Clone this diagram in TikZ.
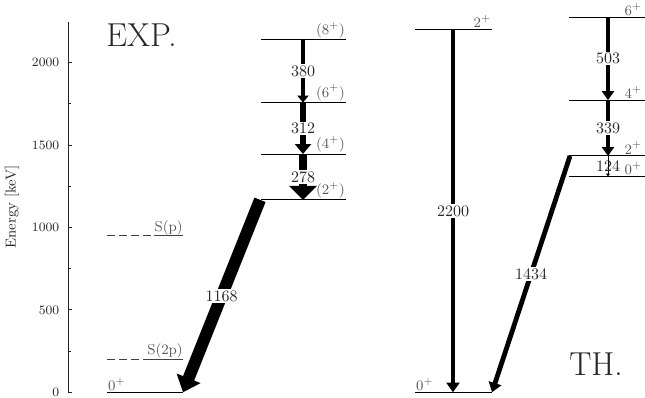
\documentclass[tikz,border=0pt]{standalone}
\usetikzlibrary{arrows.meta}
\begin{document}
\begin{tikzpicture}[
  axis/.style={line width=0.6pt, draw=black!85},
  lvl/.style={line width=0.6pt},
  sepl/.style={line width=0.6pt, draw=black!75},
  lvlfont/.style={font=\fontsize{9}{11}\selectfont},
  lvllab/.style={lvlfont, anchor=south east, inner xsep=0.5pt, inner ysep=1pt, text=black!65},
  lvllabl/.style={lvlfont, anchor=south west, inner xsep=0.5pt, inner ysep=1pt, text=black!65},
  seplab/.style={lvlfont, anchor=south east, inner xsep=0pt, inner ysep=0.3pt, text=black!65},
  trlab/.style={fill=white, inner sep=0.8pt, text=black!85, font=\normalsize},
  ticklab/.style={anchor=east, inner sep=0pt, text=black!85, font=\fontsize{8}{10}\selectfont},
  big/.style={text=black!85, font=\huge},
  gA/.style={line width=2.3pt, -{Triangle[width=6.9pt,length=4.4pt]}},
  gB/.style={line width=3.75pt, -{Triangle[width=10pt,length=6.25pt]}},
  gC/.style={line width=5.5pt, -{Triangle[width=16.9pt,length=8.75pt]}},
  gD/.style={line width=7.5pt, -{Triangle[width=15.5pt,length=9.4pt]}},
  gE/.style={line width=3pt, -{Triangle[width=8pt,length=6pt]}},
  gF/.style={line width=2.8pt, -{Triangle[width=7.5pt,length=5.6pt]}},
  gG/.style={line width=0.6pt, -{Triangle[width=2.5pt,length=1.8pt]}},
]
\useasboundingbox (0,0) rectangle (403.125pt,248.125pt);
\begin{scope}[x=0.625pt, y=0.103pt, yshift=2.94pt]
% axis
\coordinate (axB) at (68,0);
\coordinate (axT) at (68,2250);
\draw[axis] (axB) -- (axT);
\foreach \e in {0,500,1000,1500,2000}{
  \coordinate (mt\e) at (68,\e);
  \coordinate (mtt\e) at (72,\e);
  \draw[axis] (mt\e) -- (mtt\e);
  \node[ticklab] (tl\e) at (59.5,\e) {\e};
}
\foreach \e in {250,750,1250,1750}{
  \coordinate (nt\e) at (68,\e);
  \coordinate (ntt\e) at (70.5,\e);
  \draw[axis] (nt\e) -- (ntt\e);
}
\node[rotate=90, font=\fontsize{9}{11}\selectfont, text=black!85] (ylab) at (12,1125) {Energy [keV]};

% ---------- EXP ----------
\node[big] (exp) at (141.5,2165) {EXP.};
\coordinate (g0L) at (107,0);
\coordinate (g0R) at (183,0);
\draw[lvl] (g0L) -- (g0R);
\node[lvllabl] (g0lab) at (g0L) {$0^+$};

\coordinate (s2L) at (107,200);
\coordinate (s2R) at (183,200);
\node[seplab] (s2lab) at (s2R) {S(2p)};
\draw[sepl, dash pattern=on 5pt off 2.5pt] (s2L) -- (s2lab.south west);
\draw[sepl] (s2lab.south west) -- (s2R);

\coordinate (s1L) at (107,950);
\coordinate (s1R) at (183,950);
\node[seplab] (s1lab) at (s1R) {S(p)};
\draw[sepl, dash pattern=on 5pt off 2.5pt] (s1L) -- (s1lab.south west);
\draw[sepl] (s1lab.south west) -- (s1R);

\foreach \n/\e in {e2/1168, e4/1446, e6/1758, e8/2138}{
  \coordinate (\n L) at (261,\e);
  \coordinate (\n R) at (346,\e);
  \coordinate (\n m) at (303,\e);
  \draw[lvl] (\n L) -- (\n R);
}
\coordinate (e2s) at (260,1168);
\draw[gA] (e8m) -- (e6m);
\draw[gB] (e6m) -- (e4m);
\draw[gC] (e4m) -- (e2m);
\draw[gD] (e2s) -- (g0R);
\node[lvllab] (e2lab) at (e2R) {$(2^+)$};
\node[lvllab] (e4lab) at (e4R) {$(4^+)$};
\node[lvllab] (e6lab) at (e6R) {$(6^+)$};
\node[lvllab] (e8lab) at (e8R) {$(8^+)$};
\path (e8m) -- node[trlab] (l380) {380} (e6m);
\path (e6m) -- node[trlab] (l312) {312} (e4m);
\path (e4m) -- node[trlab] (l278) {278} (e2m);
\path (e2s) -- node[trlab] (l1168) {1168} (g0R);

% ---------- TH ----------
\node[big] (th) at (596,172) {TH.};
\coordinate (t0L) at (415,0);
\coordinate (t0R) at (492,0);
\coordinate (t0m) at (453,0);
\draw[lvl] (t0L) -- (t0R);
\node[lvllabl] (t0lab) at (t0L) {$0^+$};
\coordinate (taL) at (415,2200);
\coordinate (taR) at (492,2200);
\coordinate (tam) at (453,2200);
\draw[lvl] (taL) -- (taR);
\node[lvllab] (talab) at (taR) {$2^+$};

\foreach \n/\e in {c0/1310, c2/1434, c4/1773, c6/2276}{
  \coordinate (\n L) at (569,\e);
  \coordinate (\n R) at (645,\e);
  \coordinate (\n m) at (608,\e);
  \draw[lvl] (\n L) -- (\n R);
}
\coordinate (c2s) at (570,1434);
\coordinate (c0lp) at (643,1310);
\coordinate (c2lp) at (643,1434);
\coordinate (c4lp) at (643,1773);
\coordinate (c6lp) at (643,2276);
\draw[gE] (tam) -- (t0m);
\draw[gE] (c2s) -- (t0R);
\draw[gF] (c6m) -- (c4m);
\draw[gF] (c4m) -- (c2m);
\draw[gG] (c2m) -- (c0m);
\node[lvllab] (c0lab) at (c0lp) {$0^+$};
\node[lvllab] (c2lab) at (c2lp) {$2^+$};
\node[lvllab] (c4lab) at (c4lp) {$4^+$};
\node[lvllab] (c6lab) at (c6lp) {$6^+$};
\path (tam) -- node[trlab] (l2200) {2200} (t0m);
\path (c2s) -- node[trlab] (l1434) {1434} (t0R);
\path (c6m) -- node[trlab] (l503) {503} (c4m);
\path (c4m) -- node[trlab] (l339) {339} (c2m);
\path (c2m) -- node[trlab, fill=none] (l124) {124} (c0m);
\end{scope}
\end{tikzpicture}
\end{document}
